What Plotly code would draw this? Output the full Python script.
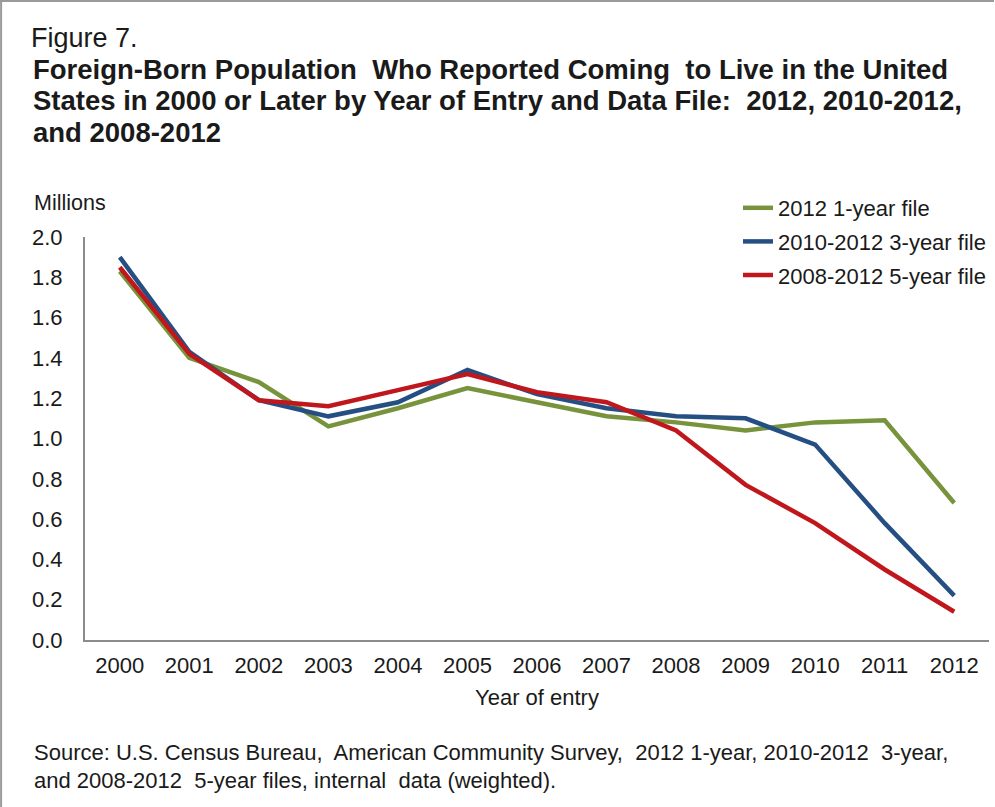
import plotly.graph_objects as go

years = ["2000", "2001", "2002", "2003", "2004", "2005", "2006",
         "2007", "2008", "2009", "2010", "2011", "2012"]
one_year = [1.83, 1.40, 1.28, 1.06, 1.15, 1.25, 1.18, 1.11, 1.08, 1.04, 1.08, 1.09, 0.68]
three_year = [1.90, 1.43, 1.19, 1.11, 1.18, 1.34, 1.22, 1.15, 1.11, 1.10, 0.97, 0.58, 0.22]
five_year = [1.85, 1.42, 1.19, 1.16, 1.24, 1.32, 1.23, 1.18, 1.04, 0.77, 0.58, 0.35, 0.14]
series_names = ["2012 1-year file", "2010-2012 3-year file", "2008-2012 5-year file"]
colors = ["#77933C", "#254F83", "#C0171D"]
y_ticks = [0.0, 0.2, 0.4, 0.6, 0.8, 1.0, 1.2, 1.4, 1.6, 1.8, 2.0]

W, H = 995, 807
L, R, T, B = 85, 5, 237, 167
PW, PH = W - L - R, H - T - B

def px(x):
    return (x - L) / PW

def py(y):
    return (H - B - y) / PH

FONT = "Arial, Liberation Sans, sans-serif"
TXT = "#1a1a1a"

fig = go.Figure()
for i, (name, vals, c) in enumerate(zip(series_names, [one_year, three_year, five_year], colors)):
    fig.add_trace(go.Scatter(x=years, y=vals, mode="lines", name=name,
                             legendgroup=f"g{i}",
                             line=dict(color=c, width=4.5)))

fig.update_layout(
    width=W, height=H,
    margin=dict(l=L, r=R, t=T, b=B),
    paper_bgcolor="white", plot_bgcolor="white",
    font=dict(family=FONT, color=TXT, size=22),
    showlegend=True,
    legend=dict(x=px(738), y=py(187), xanchor="left", yanchor="top",
                font=dict(size=22, family=FONT, color=TXT), bgcolor="rgba(0,0,0,0)",
                tracegroupgap=2, itemwidth=30),
    xaxis=dict(type="category", range=[-0.5, 12.5], showgrid=False,
               showline=True, linecolor="#8c8c8c", linewidth=2,
               ticks="", ticklabelstandoff=5,
               tickfont=dict(size=22, family=FONT, color=TXT), zeroline=False),
    yaxis=dict(range=[0, 2.0], tickvals=y_ticks,
               ticktext=[f"{v:.1f}" for v in y_ticks],
               showgrid=False, showline=True, linecolor="#8c8c8c", linewidth=2,
               ticks="", ticklabelstandoff=16,
               tickfont=dict(size=22, family=FONT, color=TXT), zeroline=False),
)

annotations = [
    dict(text="Figure 7.", x=px(29), y=py(38), size=27),
    dict(text="<b>Foreign-Born Population  Who Reported Coming  to Live in the United</b>", x=px(31), y=py(69), size=27.5),
    dict(text="<b>States in 2000 or Later by Year of Entry and Data File:  2012, 2010-2012,</b>", x=px(31), y=py(101), size=27.5),
    dict(text="<b>and 2008-2012</b>", x=px(31), y=py(132), size=27.5),
    dict(text="Millions", x=px(32), y=py(203), size=21.5),
    dict(text="Source: U.S. Census Bureau,  American Community Survey,  2012 1-year, 2010-2012  3-year,", x=px(32), y=py(752), size=22),
    dict(text="and 2008-2012  5-year files, internal  data (weighted).", x=px(32), y=py(780), size=22),
]
for a in annotations:
    fig.add_annotation(text=a["text"], x=a["x"], y=a["y"], xref="paper", yref="paper",
                       xanchor="left", yanchor="middle", showarrow=False,
                       font=dict(size=a["size"], family=FONT, color=TXT))

fig.add_annotation(text="Year of entry", x=px(537), y=py(697), xref="paper", yref="paper",
                   xanchor="center", yanchor="middle", showarrow=False,
                   font=dict(size=22, family=FONT, color=TXT))

# frame border (left and top)
fig.add_shape(type="line", xref="paper", yref="paper", x0=px(1), x1=px(1), y0=py(0), y1=py(H),
              line=dict(color="#9a9a9a", width=2))
fig.add_shape(type="line", xref="paper", yref="paper", x0=px(0), x1=px(W), y0=py(1), y1=py(1),
              line=dict(color="#9a9a9a", width=2))

fig.write_html("out.html")
